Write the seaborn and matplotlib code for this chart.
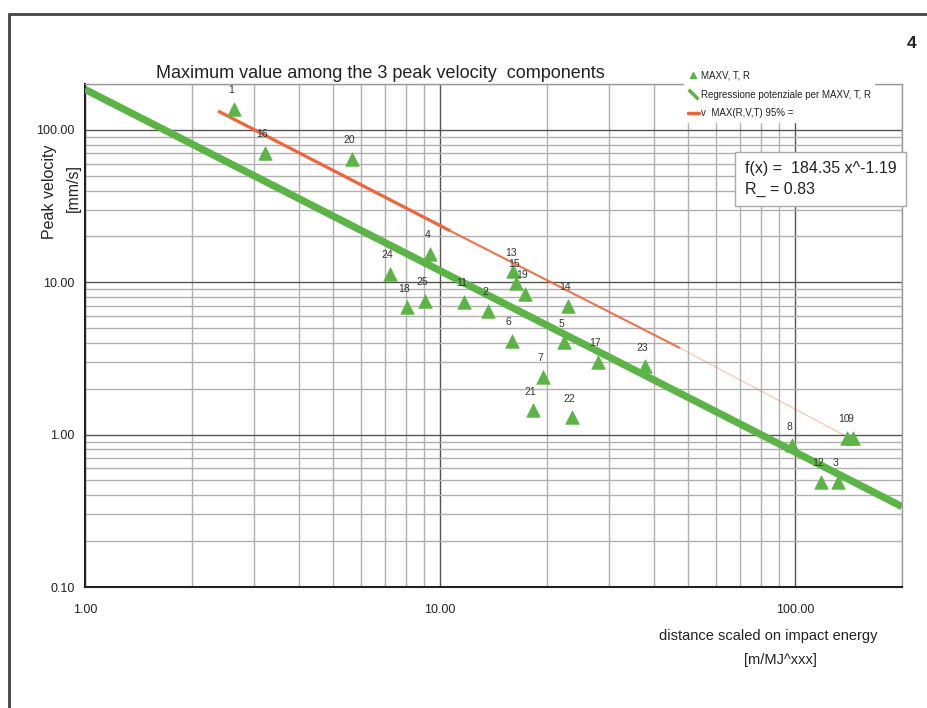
import numpy as np
import pandas as pd
import matplotlib
matplotlib.use('Agg')
import matplotlib.pyplot as plt
import matplotlib.ticker as mticker
from matplotlib.lines import Line2D
import seaborn as sns

# point data (scaled distance, peak velocity)
pt_id = ['1', '2', '3', '4', '5', '6', '7', '8', '9', '10', '11', '12', '13',
         '14', '15', '16', '17', '18', '19', '20', '21', '22', '23', '24', '25']
pt_x = [2.63, 13.65, 131.9, 9.37, 22.4, 15.9, 19.5, 97.9, 145.4, 139.8, 11.7, 117.9, 16.1,
        22.9, 16.4, 3.21, 27.8, 8.06, 17.3, 5.65, 18.3, 23.5, 37.8, 7.23, 9.07]
pt_y = [137.0, 6.5, 0.49, 15.4, 4.03, 4.13, 2.40, 0.85, 0.95, 0.95, 7.45, 0.49, 11.8,
        7.0, 9.9, 70.7, 3.0, 6.84, 8.36, 64.5, 1.44, 1.30, 2.81, 11.3, 7.56]

# power regression shown in the chart
fit_a = 184.35
fit_b = -1.19
fit_x = [1.0, 200.0]

# 95% line, points read along it
p95_x = [2.37, 10.7, 47.4, 140.0]
p95_y = [133.0, 21.7, 3.7, 0.97]

x_ticks = [1, 10, 100]
y_ticks = [0.1, 1, 10, 100]

GREEN = '#5cb446'
ORANGE = '#f0643a'

sns.set_style('white')
plt.rcParams['font.family'] = ['Liberation Sans', 'DejaVu Sans']

df = pd.DataFrame({'id': pt_id, 'x': pt_x, 'y': pt_y})
fit_df = pd.DataFrame({'x': fit_x, 'y': [fit_a * v ** fit_b for v in fit_x]})

fig = plt.figure(figsize=(9.28, 7.08), dpi=100)
ax = fig.add_axes([85 / 928, 1 - 587 / 708, (902 - 85) / 928, (587 - 84) / 708])
ax.set_xscale('log')
ax.set_yscale('log')
ax.set_xlim(1, 200)
ax.set_ylim(0.1, 200)

ax.grid(which='major', color='#555555', lw=1.0, zorder=0)
ax.grid(which='minor', color='#b0b0b0', lw=1.0, zorder=0)
ax.set_axisbelow(True)

# regression line
sns.lineplot(data=fit_df, x='x', y='y', color=GREEN, lw=5.2, ax=ax, zorder=3,
             solid_capstyle='butt')

# 95% line, thinning towards the end
widths = [2.3, 1.5, 0.8]
alphas = [1.0, 0.9, 0.4]
for i in range(len(p95_x) - 1):
    ax.plot(p95_x[i:i + 2], p95_y[i:i + 2], color=ORANGE, lw=widths[i],
            alpha=alphas[i], zorder=3, solid_capstyle='butt')

# data points
sns.scatterplot(data=df, x='x', y='y', marker='^', s=95, color=GREEN,
                edgecolor=GREEN, linewidth=0.5, ax=ax, zorder=4)
for _, r in df.iterrows():
    ax.annotate(r['id'], (r['x'], r['y']), xytext=(-2, 13.5), textcoords='offset points',
                ha='center', va='center', fontsize=7.5, color='#333333', zorder=5)

ax.xaxis.set_major_locator(mticker.FixedLocator(x_ticks))
ax.yaxis.set_major_locator(mticker.FixedLocator(y_ticks))
ax.xaxis.set_major_formatter(mticker.FuncFormatter(lambda v, p: f'{v:.2f}'))
ax.yaxis.set_major_formatter(mticker.FuncFormatter(lambda v, p: f'{v:.2f}'))
ax.xaxis.set_minor_locator(mticker.LogLocator(base=10, subs=np.arange(2, 10)))
ax.yaxis.set_minor_locator(mticker.LogLocator(base=10, subs=np.arange(2, 10)))
ax.xaxis.set_minor_formatter(mticker.NullFormatter())
ax.yaxis.set_minor_formatter(mticker.NullFormatter())
ax.tick_params(which='both', direction='inout', length=8, width=1, color='#333333',
               labelsize=9, labelcolor='#222222')
ax.tick_params(axis='x', which='major', pad=8)
ax.set_xlabel('')
ax.set_ylabel('')

for s in ['left', 'bottom']:
    ax.spines[s].set_color('#222222')
    ax.spines[s].set_linewidth(1.5)
for s in ['top', 'right']:
    ax.spines[s].set_color('#999999')
    ax.spines[s].set_linewidth(1.0)

# titles and axis labels
fig.text(380 / 928, 1 - 73 / 708, 'Maximum value among the 3 peak velocity  components',
         ha='center', va='center', fontsize=13, color='#222222')
fig.text(50 / 928, 1 - 192 / 708, 'Peak velocity', rotation=90, ha='center', va='center',
         fontsize=11.5, color='#222222')
fig.text(73 / 928, 1 - 188 / 708, '[mm/s]', rotation=90, ha='center', va='center',
         fontsize=11.5, color='#222222')
fig.text(768 / 928, 1 - 636 / 708, 'distance scaled on impact energy', ha='center',
         va='center', fontsize=10.5, color='#222222')
fig.text(780 / 928, 1 - 660 / 708, '[m/MJ^xxx]', ha='center', va='center',
         fontsize=10.5, color='#222222')

# equation box
fig.text(745 / 928, 1 - 179 / 708, 'f(x) =  184.35 x^-1.19\nR_ = 0.83', ha='left',
         va='center', fontsize=11.5, linespacing=1.45, color='#222222',
         bbox=dict(boxstyle='square,pad=0.6', fc='white', ec='#aaaaaa', lw=1))

# legend
handles = [
    Line2D([], [], marker='^', ls='none', color=GREEN, markersize=5),
    Line2D([], [], marker=[(-1, 1), (1, -1)], ls='none', markeredgecolor=GREEN,
           markeredgewidth=2.5, markersize=7),
    Line2D([], [], color=ORANGE, lw=2.5),
]
labels = ['MAXV, T, R', 'Regressione potenziale per MAXV, T, R', 'v  MAX(R,V,T) 95% =']
leg = fig.legend(handles, labels, loc='upper left', bbox_to_anchor=(684 / 928, 1 - 67 / 708),
                 fontsize=7, frameon=True, facecolor='white', edgecolor='white', framealpha=1,
                 fancybox=False, handlelength=1.1, handletextpad=0.2, labelspacing=0.9,
                 borderpad=0.4, borderaxespad=0)
for t in leg.get_texts():
    t.set_color('#222222')

# page frame and figure number
fig.add_artist(Line2D([9 / 928, 9 / 928], [0, 1 - 14 / 708], color='#444444', lw=2))
fig.add_artist(Line2D([9 / 928, 1], [1 - 14 / 708, 1 - 14 / 708], color='#444444', lw=2))
fig.text(912 / 928, 1 - 43 / 708, '4', ha='center', va='center', fontsize=12.5,
         fontweight='bold', color='#222222')

fig.savefig('out.png', dpi=100)
